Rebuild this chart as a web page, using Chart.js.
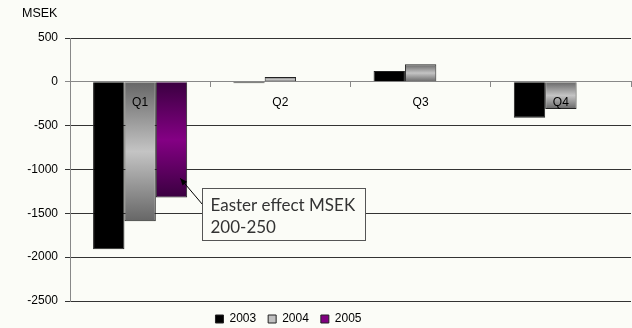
<!DOCTYPE html>
<html>
<head>
<meta charset="utf-8">
<script src="https://cdn.jsdelivr.net/npm/chart.js@4/dist/chart.umd.min.js"></script>
<style>
  html, body { margin: 0; padding: 0; background: #fbfcf7; }
  #wrap { width: 632px; height: 328px; position: relative; }
</style>
</head>
<body>
<div id="wrap"><canvas id="c" width="632" height="328"></canvas></div>
<script>
// Quarterly result per year, MSEK
const quarters = ['Q1', 'Q2', 'Q3', 'Q4'];
const years = ['2003', '2004', '2005'];
const values2003 = [-1910, -15, 125, -410];
const values2004 = [-1590, 55, 200, -310];
const values2005 = [-1320, null, null, null];
const yTicks = [500, 0, -500, -1000, -1500, -2000, -2500];
const unitLabel = 'MSEK';
const noteLines = ['Easter effect MSEK', '200-250'];
const noteValue = -1100; // where the callout arrow points on the 2005 Q1 bar

const BG = '#fbfcf7';

// Vertical "dark - light - dark" fill across the height of each bar
function barGradient(dark, light) {
  return function (ctx) {
    const chart = ctx.chart;
    if (!chart.chartArea || ctx.type !== 'data' || ctx.parsed == null) return light;
    const ys = chart.scales.y;
    const y0 = ys.getPixelForValue(0);
    const y1 = ys.getPixelForValue(ctx.parsed.y);
    if (!isFinite(y1) || Math.abs(y1 - y0) < 1) return light;
    const g = chart.ctx.createLinearGradient(0, Math.min(y0, y1), 0, Math.max(y0, y1));
    g.addColorStop(0, dark);
    g.addColorStop(0.5, light);
    g.addColorStop(1, dark);
    return g;
  };
}

const legendFill = ['#000000', '#c0c0c0', '#800080'];

const backgroundPlugin = {
  id: 'bg',
  beforeDraw(chart) {
    const c = chart.ctx;
    c.save();
    c.fillStyle = BG;
    c.fillRect(0, 0, chart.width, chart.height);
    c.restore();
  }
};

// Legend row sits a little left of the canvas centre
const legendShift = {
  id: 'legendShift',
  afterLayout(chart) {
    if (chart.legend) chart.legend.right -= 54;
  }
};

const unitPlugin = {
  id: 'unit',
  afterDraw(chart) {
    const c = chart.ctx;
    c.save();
    c.font = '12.5px "Liberation Sans", Arial, sans-serif';
    c.fillStyle = '#000';
    c.textAlign = 'left';
    c.textBaseline = 'middle';
    c.fillText(unitLabel, 22, 14);
    c.restore();
  }
};

// Text box with an arrow pointing into the 2005 Q1 bar
const calloutPlugin = {
  id: 'callout',
  afterDraw(chart) {
    const meta = chart.getDatasetMeta(2);
    const bar = meta.data[0];
    if (!bar) return;
    const ys = chart.scales.y;
    const tipX = bar.x + bar.width * 0.28;
    const tipY = ys.getPixelForValue(noteValue);
    const box = { x: 202.5, y: 188.5, w: 163, h: 52 };
    const c = chart.ctx;
    c.save();
    const sx = box.x, sy = box.y + 16;
    c.strokeStyle = '#000';
    c.lineWidth = 1;
    c.beginPath();
    c.moveTo(sx, sy);
    c.lineTo(tipX, tipY);
    c.stroke();
    const ang = Math.atan2(tipY - sy, tipX - sx);
    const L = 7, W = 3;
    c.fillStyle = '#000';
    c.beginPath();
    c.moveTo(tipX, tipY);
    c.lineTo(tipX - L * Math.cos(ang) + W * Math.sin(ang), tipY - L * Math.sin(ang) - W * Math.cos(ang));
    c.lineTo(tipX - L * Math.cos(ang) - W * Math.sin(ang), tipY - L * Math.sin(ang) + W * Math.cos(ang));
    c.closePath();
    c.fill();
    c.fillStyle = BG;
    c.fillRect(box.x, box.y, box.w, box.h);
    c.strokeStyle = '#555';
    c.strokeRect(box.x, box.y, box.w, box.h);
    c.fillStyle = '#333';
    c.font = '17px Lato, "Open Sans", sans-serif';
    c.textAlign = 'left';
    c.textBaseline = 'alphabetic';
    c.fillText(noteLines[0], box.x + 8, box.y + 22);
    c.fillText(noteLines[1], box.x + 8, box.y + 44);
    c.restore();
  }
};

const chart = new Chart(document.getElementById('c'), {
  type: 'bar',
  data: {
    labels: quarters,
    datasets: [
      {
        label: years[0],
        data: values2003,
        backgroundColor: '#000000',
        borderColor: '#222',
        borderWidth: 1
      },
      {
        label: years[1],
        data: values2004,
        backgroundColor: barGradient('#666666', '#c4c4c4'),
        borderColor: '#222',
        borderWidth: 1
      },
      {
        label: years[2],
        data: values2005,
        backgroundColor: barGradient('#3a0040', '#840084'),
        borderColor: '#222',
        borderWidth: 1
      }
    ]
  },
  options: {
    responsive: false,
    animation: false,
    events: [],
    layout: { padding: { top: 38, left: 0, right: 1, bottom: -7 } },
    datasets: {
      bar: { categoryPercentage: 0.671, barPercentage: 1.0 }
    },
    scales: {
      x: {
        type: 'category',
        position: { y: 0 },
        offset: true,
        grid: {
          display: true,
          offset: true,
          drawOnChartArea: false,
          drawTicks: true,
          tickLength: 5,
          color: '#888'
        },
        border: { display: true, color: '#888', width: 1 },
        ticks: {
          z: 1,
          color: '#000',
          padding: 9,
          font: { family: '"Liberation Sans", Arial, sans-serif', size: 12 }
        }
      },
      y: {
        min: -2500,
        max: 500,
        afterBuildTicks(scale) {
          scale.ticks = yTicks.map(v => ({ value: v }));
        },
        afterFit(scale) { scale.width = 70; },
        grid: {
          color: (ctx) => (ctx.tick && ctx.tick.value === 0 ? '#888' : '#333'),
          tickLength: 5,
          drawTicks: true
        },
        border: { display: true, color: '#888' },
        ticks: {
          color: '#000',
          padding: 7,
          callback: (v) => String(v),
          font: { family: '"Liberation Sans", Arial, sans-serif', size: 12 }
        }
      }
    },
    plugins: {
      legend: {
        position: 'bottom',
        labels: {
          boxWidth: 8,
          boxHeight: 8,
          padding: 12,
          color: '#000',
          font: { family: '"Liberation Sans", Arial, sans-serif', size: 12 },
          generateLabels(chart) {
            return chart.data.datasets.map((ds, i) => ({
              text: ds.label,
              fillStyle: legendFill[i],
              strokeStyle: '#222',
              lineWidth: 1,
              datasetIndex: i,
              hidden: false
            }));
          }
        }
      },
      tooltip: { enabled: false },
      title: { display: false }
    }
  },
  plugins: [backgroundPlugin, legendShift, unitPlugin, calloutPlugin]
});
</script>
</body>
</html>
